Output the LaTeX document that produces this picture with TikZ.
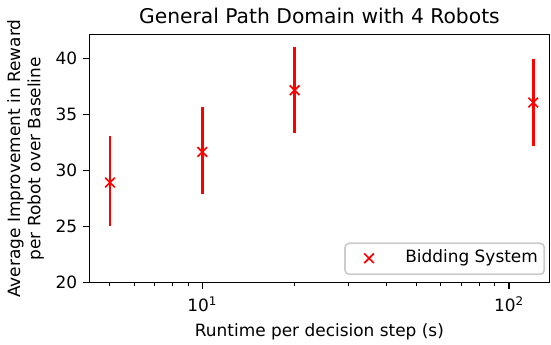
\documentclass[tikz,border=0pt]{standalone}
\usepackage{fontspec}
\setmainfont{DejaVu Sans}
\begin{document}
\begin{tikzpicture}[x=0.72pt,y=-0.72pt,
  majortick/.style={line width=0.98pt},
  minortick/.style={line width=0.73pt},
  errbar/.style={red,line width=1.83pt},
  xmark/.style={red,line width=1.22pt},
  ticklabel/.style={font=\fontsize{12.2}{14.6}\selectfont,inner sep=0pt}]
\useasboundingbox (0,0) rectangle (551,345);
% axes frame
\draw[line width=0.98pt] (89.3,34.7) rectangle (549.5,282.7);
% y ticks
\foreach \v in {20,25,30,35,40}{
  \draw[majortick] (89.3,{282.5-(\v-20)*11.2}) -- (83.4,{282.5-(\v-20)*11.2});
  \node[ticklabel,anchor=east] (ytick\v) at (77.5,{282.5-(\v-20)*11.2}) {\v};
}
% x ticks (log scale)
\foreach \t in {5,6,7,8,9,20,30,40,50,60,70,80,90}{
  \pgfmathsetmacro{\px}{202.3+306.7*(log10(\t)-1)}
  \draw[minortick] (\px,282.7) -- (\px,286.1);
}
\draw[majortick] (202.3,282.7) -- (202.3,288.6);
\draw[majortick] (509,282.7) -- (509,288.6);
\node[ticklabel,anchor=base] (xtickA) at (202.3,311.7) {10\textsuperscript{1}};
\node[ticklabel,anchor=base] (xtickB) at (509,311.7) {10\textsuperscript{2}};
% data with error bars
\foreach \rt/\mu/\lo/\hi in {5/28.93/25.05/33.06, 10/31.66/27.88/35.68, 20/37.17/33.39/41.04, 120/36.07/32.2/39.94}{
  \pgfmathsetmacro{\px}{202.3+306.7*(log10(\rt)-1)}
  \pgfmathsetmacro{\py}{282.5-(\mu-20)*11.2}
  \draw[errbar] (\px,{282.5-(\lo-20)*11.2}) -- (\px,{282.5-(\hi-20)*11.2});
  \draw[xmark] (\px-4.8,\py-4.8) -- (\px+4.8,\py+4.8) (\px-4.8,\py+4.8) -- (\px+4.8,\py-4.8);
}
% legend
\draw[black!20,fill=white,fill opacity=0.8,line width=1.22pt,rounded corners=3pt] (345,243.3) rectangle (544.3,274.3);
\draw[xmark] (364.2,253.5) -- (373.8,263.1) (364.2,263.1) -- (373.8,253.5);
\node[ticklabel,anchor=base west] (legtext) at (405,262.3) {Bidding System};
% labels
\node[font=\fontsize{14.6}{17.5}\selectfont,anchor=base,inner sep=0pt] (title) at (319.4,24) {General Path Domain with 4 Robots};
\node[ticklabel,anchor=base] (xlabel) at (319.4,336) {Runtime per decision step (s)};
\node[ticklabel,rotate=90,align=center] (ylabel) at (25.5,158.7) {Average Improvement in Reward\\per Robot over Baseline};
\end{tikzpicture}
\end{document}
